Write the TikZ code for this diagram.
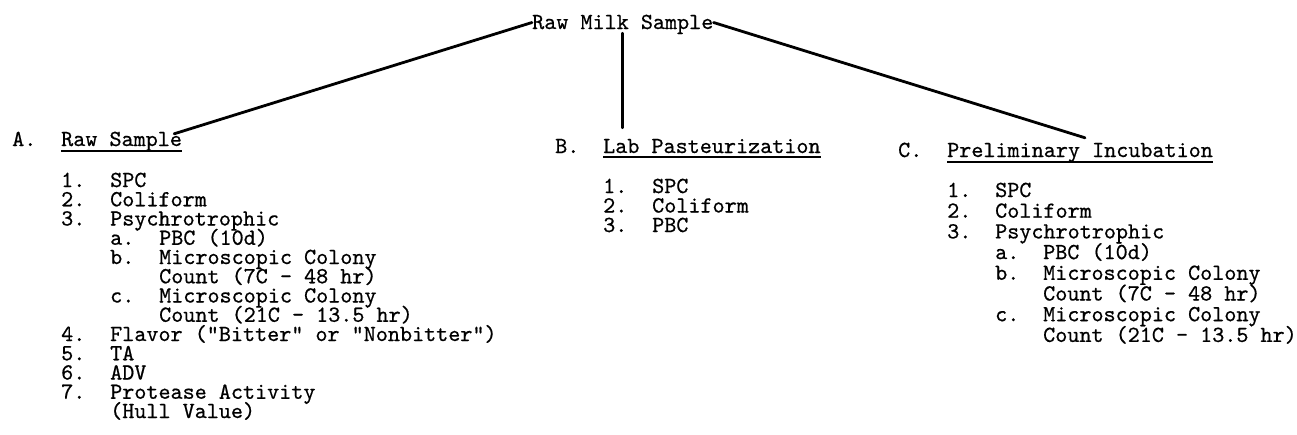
\documentclass[tikz,border=0pt]{standalone}
\usepackage{fontspec}
\newfontfamily\twfont{lmmono10-regular}[Extension=.otf,FakeBold=0.6]
\usetikzlibrary{calc}
\begin{document}
\begin{tikzpicture}[x=1pt,y=-1pt,
  txt/.style={inner sep=0pt, anchor=base west, text height=13pt, text depth=4pt,
    font=\twfont\fontsize{23}{24}\selectfont},
  conn/.style={line width=2.8pt, line cap=round},
  uline/.style={line width=1.1pt}]
\useasboundingbox[fill=white] (0,0) rectangle (1297,434);

% root
\node[txt] (top) at (532,29) {Raw Milk Sample};

% headings
\node[txt] (Alab) at (12,146) {A.};
\node[txt] (rs) at (61,146) {Raw Sample};
\node[txt] (Blab) at (555,153) {B.};
\node[txt] (lp) at (603,153) {Lab Pasteurization};
\node[txt] (Clab) at (898,157) {C.};
\node[txt] (pi) at (947,157) {Preliminary Incubation};

\draw[uline] ([yshift=-5pt]rs.base west) -- ([yshift=-5pt]rs.base east);
\draw[uline] ([yshift=-4pt]lp.base west) -- ([yshift=-4pt]lp.base east);
\draw[uline] ([yshift=-5pt]pi.base west) -- ([yshift=-5pt]pi.base east);

% connectors
\draw[conn] ([yshift=2pt]top.west) -- ([xshift=-8pt,yshift=-1pt]rs.north east);
\draw[conn] (top.south) -- ($(top.south |- lp.north)+(0,-12)$);
\draw[conn] ([yshift=2pt]top.east) -- ([xshift=138pt,yshift=6pt]pi.north west);

% list A
\foreach \k/\n/\t in {0/1./SPC, 1/2./Coliform, 2/3./Psychrotrophic,
    8/4./{Flavor ("Bitter" or "Nonbitter")}, 9/5./TA, 10/6./ADV, 11/7./{Protease Activity}}
  {\node[txt] (An\k) at (61,{187+19.25*\k}) {\n};
   \node[txt] (At\k) at (110,{187+19.25*\k}) {\t};}
\foreach \k/\n/\t in {3/a./{PBC (10d)}, 4/b./{Microscopic Colony}, 6/c./{Microscopic Colony}}
  {\node[txt] (Al\k) at (110,{187+19.25*\k}) {\n};
   \node[txt] (As\k) at (159,{187+19.25*\k}) {\t};}
\node[txt] (Ac5) at (159,{187+19.25*5}) {Count (7C - 48 hr)};
\node[txt] (Ac7) at (159,{187+19.25*7}) {Count (21C - 13.5 hr)};
\node[txt] (Ac12) at (110,{187+19.25*12}) {(Hull Value)};

% list B
\foreach \k/\n/\t in {0/1./SPC, 1/2./Coliform, 2/3./PBC}
  {\node[txt] (Bn\k) at (603,{193+19.5*\k}) {\n};
   \node[txt] (Bt\k) at (652,{193+19.5*\k}) {\t};}

% list C
\foreach \k/\n/\t in {0/1./SPC, 1/2./Coliform, 2/3./Psychrotrophic}
  {\node[txt] (Cn\k) at (947,{197+20.7*\k}) {\n};
   \node[txt] (Ct\k) at (995,{197+20.7*\k}) {\t};}
\foreach \k/\n/\t in {3/a./{PBC (10d)}, 4/b./{Microscopic Colony}, 6/c./{Microscopic Colony}}
  {\node[txt] (Cl\k) at (995,{197+20.7*\k}) {\n};
   \node[txt] (Cs\k) at (1043,{197+20.7*\k}) {\t};}
\node[txt] (Cc5) at (1043,{197+20.7*5}) {Count (7C - 48 hr)};
\node[txt] (Cc7) at (1043,{197+20.7*7}) {Count (21C - 13.5 hr)};
\end{tikzpicture}
\end{document}
